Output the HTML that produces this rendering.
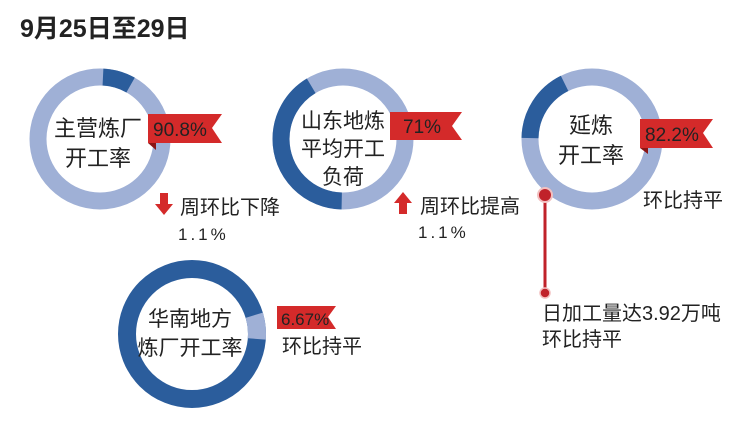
<!DOCTYPE html>
<html><head><meta charset="utf-8"><style>
html,body{margin:0;padding:0;background:#fff;width:746px;height:422px;overflow:hidden}
text{font-family:"Liberation Sans","Noto Sans CJK SC",sans-serif;fill:#222}
</style></head><body>
<svg width="746" height="422" viewBox="0 0 746 422" xmlns="http://www.w3.org/2000/svg">
<text x="20" y="37" font-size="25" font-weight="bold" fill="#111">9月25日至29日</text>

<!-- ring1 -->
<g transform="translate(100,139) rotate(-90)">
<circle r="62" fill="none" stroke="#9fb0d6" stroke-width="17"/>
<circle r="62" fill="none" stroke="#2b5d9c" stroke-width="17" stroke-dasharray="29 400" stroke-dashoffset="-3"/>
</g>
<!-- ring2 -->
<g transform="translate(343,139) rotate(-90)">
<circle r="62" fill="none" stroke="#9fb0d6" stroke-width="17"/>
<circle r="62" fill="none" stroke="#2b5d9c" stroke-width="17" stroke-dasharray="160 400" stroke-dashoffset="-196"/>
</g>
<!-- ring3 -->
<g transform="translate(592,139) rotate(-90)">
<circle r="62" fill="none" stroke="#9fb0d6" stroke-width="17"/>
<circle r="62" fill="none" stroke="#2b5d9c" stroke-width="17" stroke-dasharray="68 400" stroke-dashoffset="-293"/>
</g>
<!-- ring4 -->
<g transform="translate(192,334) rotate(-90)">
<circle r="65" fill="none" stroke="#2b5d9c" stroke-width="18"/>
<circle r="65" fill="none" stroke="#9fb0d6" stroke-width="18" stroke-dasharray="24 420" stroke-dashoffset="-83"/>
</g>

<!-- ribbons -->
<polygon points="148,114 222,114 212,128 222,143 148,143" fill="#d42a2a"/>
<polygon points="148,143 156,143 156,150" fill="#8a1515"/>
<text x="153" y="136" font-size="19" fill="#fff">90.8%</text>

<polygon points="390,112 462,112 452,126 462,140 390,140" fill="#d42a2a"/>
<text x="403" y="133" font-size="19" fill="#fff">71%</text>

<polygon points="640,119 713,119 703,133 713,148 640,148" fill="#d42a2a"/>
<polygon points="640,148 648,148 648,154" fill="#8a1515"/>
<text x="645" y="141" font-size="19" fill="#fff">82.2%</text>

<polygon points="277,306 336,306 328,317 336,329 277,329" fill="#d42a2a"/>
<text x="281" y="325" font-size="17" fill="#fff">6.67%</text>

<!-- center labels -->
<text x="98" y="136" font-size="22" text-anchor="middle">主营炼厂</text>
<text x="98" y="166" font-size="22" text-anchor="middle">开工率</text>
<text x="343" y="128" font-size="21" text-anchor="middle">山东地炼</text>
<text x="343" y="156" font-size="21" text-anchor="middle">平均开工</text>
<text x="343" y="184" font-size="21" text-anchor="middle">负荷</text>
<text x="591" y="133" font-size="22" text-anchor="middle">延炼</text>
<text x="591" y="163" font-size="22" text-anchor="middle">开工率</text>
<text x="190" y="326" font-size="21" text-anchor="middle">华南地方</text>
<text x="190" y="355" font-size="21" text-anchor="middle">炼厂开工率</text>

<!-- arrows & notes -->
<polygon points="160,193 168,193 168,204 173,204 164,215 155,204 160,204" fill="#d42a2a"/>
<text x="180" y="214" font-size="20">周环比下降</text>
<text x="178" y="240" font-size="17" letter-spacing="3">1.1%</text>
<polygon points="399,214 407,214 407,203 412,203 403,192 394,203 399,203" fill="#d42a2a"/>
<text x="420" y="213" font-size="20">周环比提高</text>
<text x="418" y="238" font-size="17" letter-spacing="3">1.1%</text>
<text x="643" y="207" font-size="20">环比持平</text>
<text x="282" y="353" font-size="20">环比持平</text>

<line x1="545" y1="195" x2="545" y2="292" stroke="#c0222a" stroke-width="3"/>
<circle cx="545" cy="195" r="7" fill="#c0222a" stroke="#f2c0c0" stroke-width="2"/>
<circle cx="545" cy="293" r="5" fill="#c0222a" stroke="#f2c0c0" stroke-width="1.5"/>
<text x="542" y="320" font-size="20">日加工量达3.92万吨</text>
<text x="542" y="346" font-size="20">环比持平</text>
</svg>
</body></html>
